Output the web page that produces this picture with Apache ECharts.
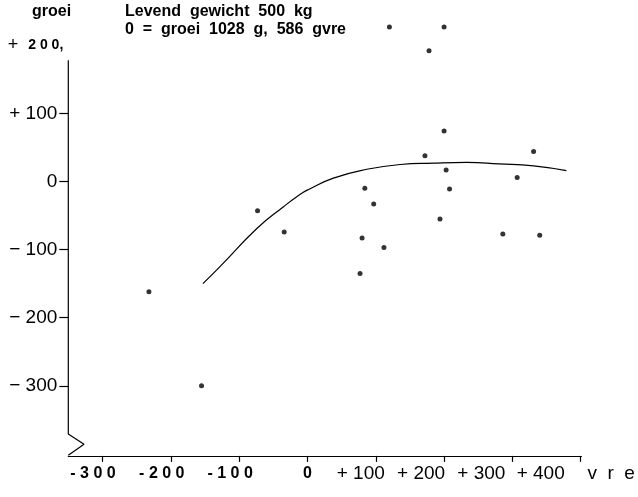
<!DOCTYPE html>
<html>
<head>
<meta charset="utf-8">
<script src="https://cdn.jsdelivr.net/npm/echarts@6/dist/echarts.min.js"></script>
<style>
  html, body { margin: 0; padding: 0; background: #fff; }
  #chart { width: 638px; height: 497px; }
</style>
</head>
<body>
<div id="chart"></div>
<script>
// Growth deviation ("groei", g/day) against deviation in feed units ("vre"),
// live weight 500 kg; 0 = growth 1028 g, 586 gvre.

// Axis ticks and their printed labels
const xTicks = [-300, -200, -100, 0, 100, 200, 300, 400];
const xTickLabels = ['- 3 0 0', '- 2 0 0', '- 1 0 0', '0', '+ 100', '+ 200', '+ 300', '+ 400'];
const yTicks = [-300, -200, -100, 0, 100, 200];
const yTickLabels = ['\u2212 300', '\u2212 200', '\u2212 100', '0', '+ 100', '2 0 0,'];

// Individual observations
const vreDev   = [-232, -155, -73, -34, 120, 200, 178, 200, 172, 331, 203, 307,  84, 208,  97, 194,  80, 112, 286, 340,   77];
const groeiDev = [-162, -300, -43, -74, 227, 227, 192,  74,  38,  44,  17,   6, -10, -11, -33, -55, -83, -97, -77, -79, -135];

// Fitted response curve
const curveVre   = [-153, -128, -74, -35, -11,   1, 38, 87, 136, 184, 233, 280, 331, 379];
const curveGroei = [-150, -125, -69, -37, -19, -12,  5, 18,  25,  27,  28,  26,  23,  16];

// Axis extents
const X_MIN = -350, X_MAX = 401;
const Y_MIN = -403, Y_MAX = 240;

// Label layout: horizontal shift (px, leftwards) of each x label
const xLabelShift = [9.5, 9, 9, 0, 15, 23, 31, 40];

const FONT = '"Liberation Sans", Arial, Helvetica, sans-serif';
const INK = '#000';

const points = vreDev.map((v, i) => [v, groeiDev[i]]);
const curve = curveVre.map((v, i) => [v, curveGroei[i]]);

// Vertical axis drawn as a line, ending in a zigzag break above the x axis
const yAxisPath = [
  [X_MIN, 178], [X_MIN, -365], [X_MIN, -371],
  [X_MIN + 23, -386], [X_MIN, -402]
];

const xRich = {};
xTicks.forEach((t, i) => {
  const neg = t <= 0;
  xRich['x' + i] = {
    fontFamily: FONT,
    fontSize: neg ? 16 : 19,
    fontWeight: neg ? 'bold' : 'normal',
    lineHeight: 20,
    color: INK,
    padding: [0, xLabelShift[i] * 2, 0, 0]
  };
});

function xLabel(v) {
  const i = xTicks.indexOf(v);
  return i < 0 ? '' : `{x${i}|${xTickLabels[i]}}`;
}

const yRich = {
  plus: { fontFamily: FONT, fontSize: 18, color: INK, lineHeight: 20, padding: [0, 10, 0, 0] },
  top: { fontFamily: FONT, fontSize: 14, fontWeight: 'bold', color: INK, lineHeight: 20 }
};
yTicks.forEach((t, i) => {
  yRich['y' + i] = {
    fontFamily: FONT, fontSize: 19, color: INK, lineHeight: 20,
    padding: [0, 6, 0, 0]
  };
});

function yLabel(v) {
  const i = yTicks.indexOf(v);
  if (v === 200) return `{plus|+}{top|${yTickLabels[i]}}`;
  return `{y${i}|${yTickLabels[i]}}`;
}

const chart = echarts.init(document.getElementById('chart'), null, { renderer: 'canvas' });

chart.setOption({
  animation: false,
  backgroundColor: '#fff',
  grid: {
    left: 68.3, right: 56.6, top: 18.1, bottom: 41.1,
    containLabel: false, outerBoundsMode: 'none'
  },
  title: [
    { text: 'groei', left: 32, top: 4, padding: 0,
      textStyle: { fontFamily: FONT, fontSize: 16, fontWeight: 'bold', color: INK } },
    { text: 'Levend  gewicht  500  kg', left: 125, top: 4, padding: 0,
      textStyle: { fontFamily: FONT, fontSize: 16, fontWeight: 'bold', color: INK } },
    { text: '0  =  groei  1028  g,  586  gvre', left: 125, top: 22, padding: 0,
      textStyle: { fontFamily: FONT, fontSize: 16, fontWeight: 'bold', color: INK } }
  ],
  xAxis: {
    type: 'value',
    min: X_MIN,
    max: X_MAX,
    splitLine: { show: false },
    axisLine: { show: true, onZero: false, lineStyle: { color: INK, width: 1.2 } },
    axisTick: { show: true, customValues: xTicks, length: 6, lineStyle: { color: INK, width: 1.2 } },
    axisLabel: {
      // trailing blank entry at the axis end keeps the last printed label visible
      customValues: xTicks.concat([X_MAX]),
      margin: 8,
      hideOverlap: false,
      formatter: xLabel,
      rich: xRich
    },
    name: 'v  r  e',
    nameLocation: 'end',
    nameGap: 6,
    nameMoveOverlap: false,
    nameTextStyle: {
      fontFamily: FONT, fontSize: 19, color: INK,
      align: 'left', verticalAlign: 'top', lineHeight: 20, padding: [8, 0, 0, 0]
    }
  },
  yAxis: {
    type: 'value',
    min: Y_MIN,
    max: Y_MAX,
    splitLine: { show: false },
    axisLine: { show: false, onZero: false },
    axisTick: { show: true, customValues: [-300, -200, -100, 0, 100], length: 9,
      lineStyle: { color: INK, width: 1.2 } },
    axisLabel: {
      customValues: yTicks,
      margin: 5,
      formatter: yLabel,
      rich: yRich
    }
  },
  series: [
    {
      type: 'line',
      data: yAxisPath,
      showSymbol: false,
      silent: true,
      clip: false,
      lineStyle: { color: INK, width: 1.2 }
    },
    {
      type: 'line',
      data: curve,
      smooth: true,
      showSymbol: false,
      silent: true,
      lineStyle: { color: INK, width: 1.2 }
    },
    {
      type: 'scatter',
      data: points,
      symbol: 'circle',
      symbolSize: 5,
      clip: false,
      itemStyle: { color: INK }
    }
  ]
});
</script>
</body>
</html>
